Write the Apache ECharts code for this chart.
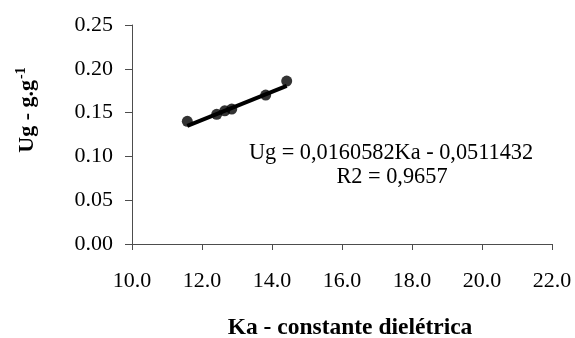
<!DOCTYPE html>
<html>
<head>
<meta charset="utf-8">
<script src="https://cdn.jsdelivr.net/npm/echarts@6/dist/echarts.min.js"></script>
<style>
  html, body { margin: 0; padding: 0; background: #fff; }
  #chart { width: 575px; height: 338px; }
</style>
</head>
<body>
<div id="chart"></div>
<script>
// Dielectric constant (Ka) vs gravimetric moisture (Ug)
const kaValues = [11.58, 12.42, 12.65, 12.85, 13.82, 14.42];
const ugValues = [0.140, 0.148, 0.152, 0.154, 0.170, 0.186];

// Linear fit coefficients shown in the equation label
const fitSlope = 0.0160582;
const fitIntercept = -0.0511432;
const fitR2 = '0,9657';

const xTicks = { min: 10, max: 22, interval: 2 };
const yTicks = { min: 0, max: 0.25, interval: 0.05 };

const xTitle = 'Ka - constante dielétrica';
const yTitle = 'Ug - g.g';

const serif = '"Liberation Serif", "Times New Roman", serif';

const xMin = Math.min(...kaValues);
const xMax = Math.max(...kaValues);
const fitLine = [xMin, xMax].map(x => [x, fitSlope * x + fitIntercept]);

const fmtCoef = v => Math.abs(v).toFixed(7).replace('.', ',');
const eqText = 'Ug = ' + fmtCoef(fitSlope) + 'Ka ' + (fitIntercept < 0 ? '- ' : '+ ') + fmtCoef(fitIntercept);

const chart = echarts.init(document.getElementById('chart'), null, { renderer: 'canvas' });

chart.setOption({
  animation: false,
  backgroundColor: '#ffffff',
  grid: { left: 132, right: 23, top: 25, bottom: 94, containLabel: false, outerBoundsMode: 'none' },
  xAxis: {
    type: 'value',
    min: xTicks.min, max: xTicks.max, interval: xTicks.interval,
    axisLine: { lineStyle: { color: '#4d4d4d', width: 1 } },
    axisTick: { show: true, inside: false, length: 6, lineStyle: { color: '#4d4d4d' } },
    splitLine: { show: false },
    axisLabel: {
      margin: 26, color: '#000', fontFamily: serif, fontSize: 22,
      formatter: v => v.toFixed(1)
    },
    name: xTitle,
    nameLocation: 'middle',
    nameGap: 72,
    nameTextStyle: { color: '#000', fontFamily: serif, fontSize: 23.5, fontWeight: 'bold', padding: [0, 0, 0, 16] }
  },
  yAxis: {
    type: 'value',
    min: yTicks.min, max: yTicks.max, interval: yTicks.interval,
    axisLine: { show: true, lineStyle: { color: '#4d4d4d', width: 1 } },
    axisTick: { show: true, inside: false, length: 7, lineStyle: { color: '#4d4d4d' } },
    splitLine: { show: false },
    axisLabel: {
      margin: 19, color: '#000', fontFamily: serif, fontSize: 22,
      formatter: v => v.toFixed(2)
    }
  },
  graphic: [
    {
      type: 'text',
      x: 27, y: 110,
      rotation: Math.PI / 2,
      style: {
        text: '{m|' + yTitle + '}{s|-1}',
        align: 'center',
        verticalAlign: 'middle',
        rich: {
          m: { fontFamily: serif, fontSize: 22, fontWeight: 'bold', fill: '#000' },
          s: { fontFamily: serif, fontSize: 14, fontWeight: 'bold', fill: '#000', padding: [0, 0, 12, 1] }
        }
      }
    },
    {
      type: 'text',
      x: 391, y: 153,
      style: {
        text: eqText,
        align: 'center', verticalAlign: 'middle',
        fontFamily: serif, fontSize: 22.3, fill: '#000'
      }
    },
    {
      type: 'text',
      x: 392, y: 177,
      style: {
        text: 'R2 = ' + fitR2,
        align: 'center', verticalAlign: 'middle',
        fontFamily: serif, fontSize: 22.3, fill: '#000'
      }
    }
  ],
  series: [
    {
      type: 'line',
      data: fitLine,
      showSymbol: false,
      lineStyle: { color: '#000', width: 4 },
      z: 2
    },
    {
      type: 'scatter',
      data: kaValues.map((k, i) => [k, ugValues[i]]),
      symbol: 'circle',
      symbolSize: 11,
      itemStyle: { color: '#000' },
      z: 3
    }
  ]
});
</script>
</body>
</html>
